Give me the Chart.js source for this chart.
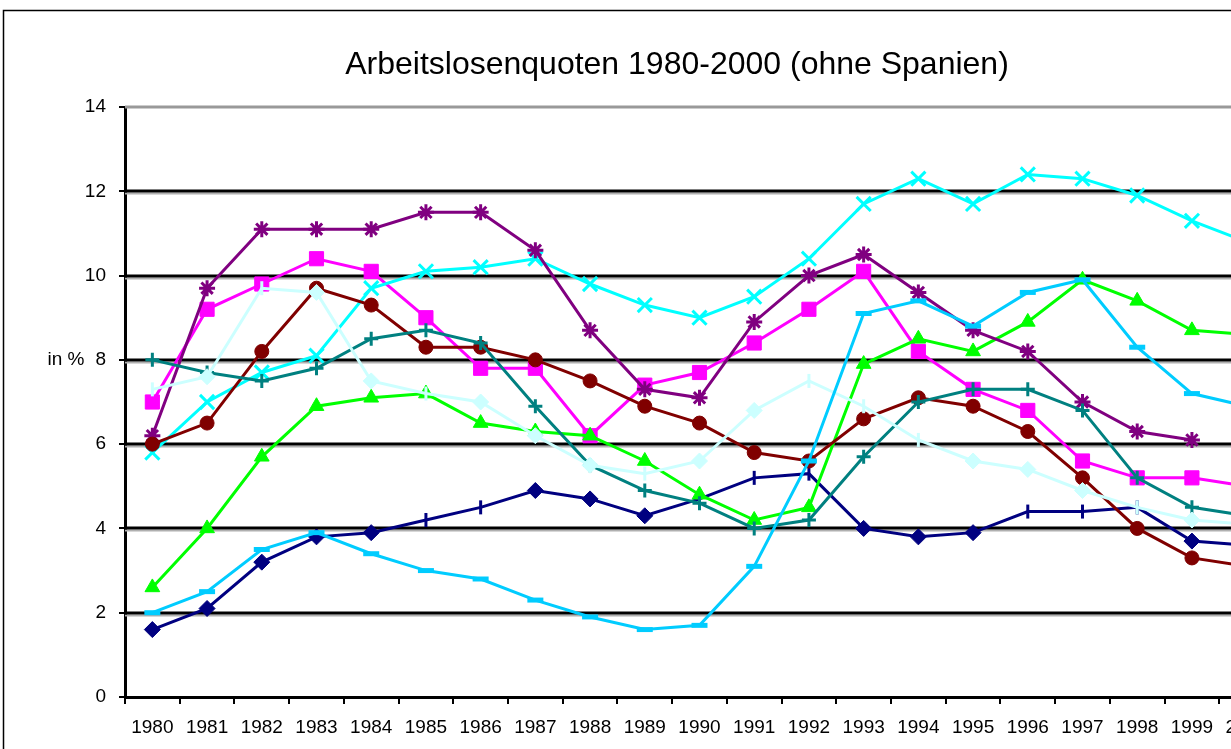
<!DOCTYPE html>
<html>
<head>
<meta charset="utf-8">
<script src="https://cdn.jsdelivr.net/npm/chart.js@4"></script>
<style>
  html, body { margin: 0; padding: 0; overflow: hidden; background: #fff; }
  #wrap { position: absolute; left: 0; top: 0; width: 1354px; height: 749px; }
</style>
</head>
<body>
<div id="wrap"><canvas id="quoten" width="1354" height="749"></canvas></div>
<script>
// Jahre und Arbeitslosenquoten in %
const years = ['1980','1981','1982','1983','1984','1985','1986','1987','1988','1989','1990',
               '1991','1992','1993','1994','1995','1996','1997','1998','1999','2000'];
const yTicks = [0, 2, 4, 6, 8, 10, 12, 14];

const navy      = [1.6, 2.1, 3.2, 3.8, 3.9, 4.2, 4.5, 4.9, 4.7, 4.3, 4.7, 5.2, 5.3, 4.0, 3.8, 3.9, 4.4, 4.4, 4.5, 3.7, 3.6];
const magenta   = [7.0, 9.2, 9.8, 10.4, 10.1, 9.0, 7.8, 7.8, 6.2, 7.4, 7.7, 8.4, 9.2, 10.1, 8.2, 7.3, 6.8, 5.6, 5.2, 5.2, 5.0];
const green     = [2.6, 4.0, 5.7, 6.9, 7.1, 7.2, 6.5, 6.3, 6.2, 5.6, 4.8, 4.2, 4.5, 7.9, 8.5, 8.2, 8.9, 9.9, 9.4, 8.7, 8.6];
const cyan      = [5.8, 7.0, 7.7, 8.1, 9.7, 10.1, 10.2, 10.4, 9.8, 9.3, 9.0, 9.5, 10.4, 11.7, 12.3, 11.7, 12.4, 12.3, 11.9, 11.3, 10.8];
const purple    = [6.2, 9.7, 11.1, 11.1, 11.1, 11.5, 11.5, 10.6, 8.7, 7.3, 7.1, 8.9, 10.0, 10.5, 9.6, 8.7, 8.2, 7.0, 6.3, 6.1, null];
const darkred   = [6.0, 6.5, 8.2, 9.7, 9.3, 8.3, 8.3, 8.0, 7.5, 6.9, 6.5, 5.8, 5.6, 6.6, 7.1, 6.9, 6.3, 5.2, 4.0, 3.3, 3.1];
const teal      = [8.0, 7.7, 7.5, 7.8, 8.5, 8.7, 8.4, 6.9, 5.5, 4.9, 4.6, 4.0, 4.2, 5.7, 7.0, 7.3, 7.3, 6.8, 5.2, 4.5, 4.3];
const lightcyan = [7.3, 7.6, 9.7, 9.6, 7.5, 7.2, 7.0, 6.2, 5.5, 5.3, 5.6, 6.8, 7.5, 6.9, 6.1, 5.6, 5.4, 4.9, 4.5, 4.2, 4.1];
const sky       = [2.0, 2.5, 3.5, 3.9, 3.4, 3.0, 2.8, 2.3, 1.9, 1.6, 1.7, 3.1, 5.6, 9.1, 9.4, 8.8, 9.6, 9.9, 8.3, 7.2, 6.9];

// Jahre, an denen statt des Symbols nur ein senkrechter Strich steht
const navyTickYears = ['1985','1986','1990','1991','1992','1996','1997','1998'];
const lightcyanTickYears = ['1980','1982','1985','1989','1992','1993','1994','1998'];

const FONT = "'Liberation Sans', Arial, sans-serif";

function markers(base, tickYears) {
  return years.map(y => tickYears.includes(y) ? 'line' : base);
}
function rotations(tickYears) {
  return years.map(y => tickYears.includes(y) ? 90 : 0);
}
function radii(r, tickYears) {
  return years.map(y => tickYears.includes(y) ? 7 : r);
}
function widths(w, tickYears) {
  return years.map(y => tickYears.includes(y) ? 3 : w);
}

const series = [
  { data: navy, color: '#000080', style: markers('rectRot', navyTickYears), rot: rotations(navyTickYears), r: radii(8, navyTickYears), bw: widths(1, navyTickYears) },
  { data: magenta, color: '#FF00FF', style: 'rect', rot: 0, r: 10, bw: 1 },
  { data: green, color: '#00FF00', style: 'triangle', rot: 0, r: 8.5, bw: 1 },
  { data: cyan, color: '#00FFFF', style: 'crossRot', rot: 0, r: 10, bw: 3 },
  { data: purple, color: '#800080', style: 'star', rot: 0, r: 8, bw: 3 },
  { data: darkred, color: '#800000', style: 'circle', rot: 0, r: 7, bw: 1 },
  { data: teal, color: '#008080', style: 'cross', rot: 0, r: 7, bw: 3 },
  { data: lightcyan, color: '#CCFFFF', style: markers('rectRot', lightcyanTickYears), rot: rotations(lightcyanTickYears), r: radii(8, lightcyanTickYears), bw: widths(1, lightcyanTickYears) },
  { data: sky, color: '#00CCFF', style: 'line', rot: 0, r: 8, bw: 5 }
];

const datasets = series.map((s, i) => ({
  data: s.data,
  borderColor: s.color,
  backgroundColor: s.color,
  borderWidth: 3,
  pointStyle: s.style,
  pointRotation: s.rot,
  pointRadius: s.r,
  pointBorderWidth: s.bw,
  pointBorderColor: s.color,
  pointBackgroundColor: s.color,
  tension: 0,
  spanGaps: false,
  order: series.length - i
}));

// Excel-Rahmen, Gitternetz und Achsentitel
const excelLook = {
  id: 'excelLook',
  beforeDraw(chart) {
    const ctx = chart.ctx;
    ctx.save();
    ctx.fillStyle = '#fff';
    ctx.fillRect(0, 0, chart.width, chart.height);
    ctx.strokeStyle = '#000';
    ctx.lineWidth = 1.5;
    ctx.strokeRect(3.5, 10.5, chart.width + 20, chart.height + 20);
    ctx.restore();
  },
  beforeDatasetsDraw(chart) {
    const ctx = chart.ctx;
    const area = chart.chartArea;
    const y = chart.scales.y;
    ctx.save();
    yTicks.forEach(v => {
      if (v === 0) return;
      const py = Math.round(y.getPixelForValue(v));
      if (v === 14) {
        ctx.strokeStyle = '#999';
        ctx.lineWidth = 3;
        ctx.beginPath();
        ctx.moveTo(area.left, py);
        ctx.lineTo(area.right, py);
        ctx.stroke();
        return;
      }
      ctx.strokeStyle = '#b0b0b0';
      ctx.lineWidth = 2;
      ctx.beginPath();
      ctx.moveTo(area.left, py + 2.5);
      ctx.lineTo(area.right, py + 2.5);
      ctx.stroke();
      ctx.strokeStyle = '#000';
      ctx.lineWidth = 3;
      ctx.beginPath();
      ctx.moveTo(area.left, py);
      ctx.lineTo(area.right, py);
      ctx.stroke();
    });
    ctx.strokeStyle = '#999';
    ctx.lineWidth = 3;
    ctx.beginPath();
    ctx.moveTo(area.right, area.top);
    ctx.lineTo(area.right, area.bottom);
    ctx.stroke();

    ctx.fillStyle = '#000';
    ctx.font = '19px ' + FONT;
    ctx.textAlign = 'center';
    ctx.textBaseline = 'middle';
    ctx.fillText('in %', 66, 360);
    ctx.restore();
  }
};

new Chart(document.getElementById('quoten'), {
  type: 'line',
  data: { labels: years, datasets: datasets },
  plugins: [excelLook],
  options: {
    responsive: false,
    animation: false,
    devicePixelRatio: 1,
    layout: { padding: { left: 80, right: 80, top: 10, bottom: 0 } },
    plugins: {
      legend: { display: false },
      tooltip: { enabled: false },
      title: {
        display: true,
        text: 'Arbeitslosenquoten 1980-2000 (ohne Spanien)',
        color: '#000',
        font: { family: FONT, size: 32, weight: 'normal', lineHeight: 1.2 },
        padding: { top: 36, bottom: 22.6 }
      }
    },
    scales: {
      x: {
        offset: true,
        afterFit(scale) { scale.height = 52; },
        grid: { offset: true, drawOnChartArea: false, color: '#000', lineWidth: 2, tickLength: 7 },
        border: { display: true, color: '#000', width: 3 },
        ticks: { color: '#000', font: { family: FONT, size: 19 }, padding: 12, maxRotation: 0, autoSkip: false }
      },
      y: {
        min: 0,
        max: 14,
        afterFit(scale) { scale.width = 45; },
        afterBuildTicks(scale) { scale.ticks = yTicks.map(v => ({ value: v })); },
        grid: { drawOnChartArea: false, color: '#000', lineWidth: 2, tickLength: 6 },
        border: { display: true, color: '#000', width: 3 },
        ticks: { color: '#000', font: { family: FONT, size: 19 }, padding: 13 }
      }
    }
  }
});
</script>
</body>
</html>
